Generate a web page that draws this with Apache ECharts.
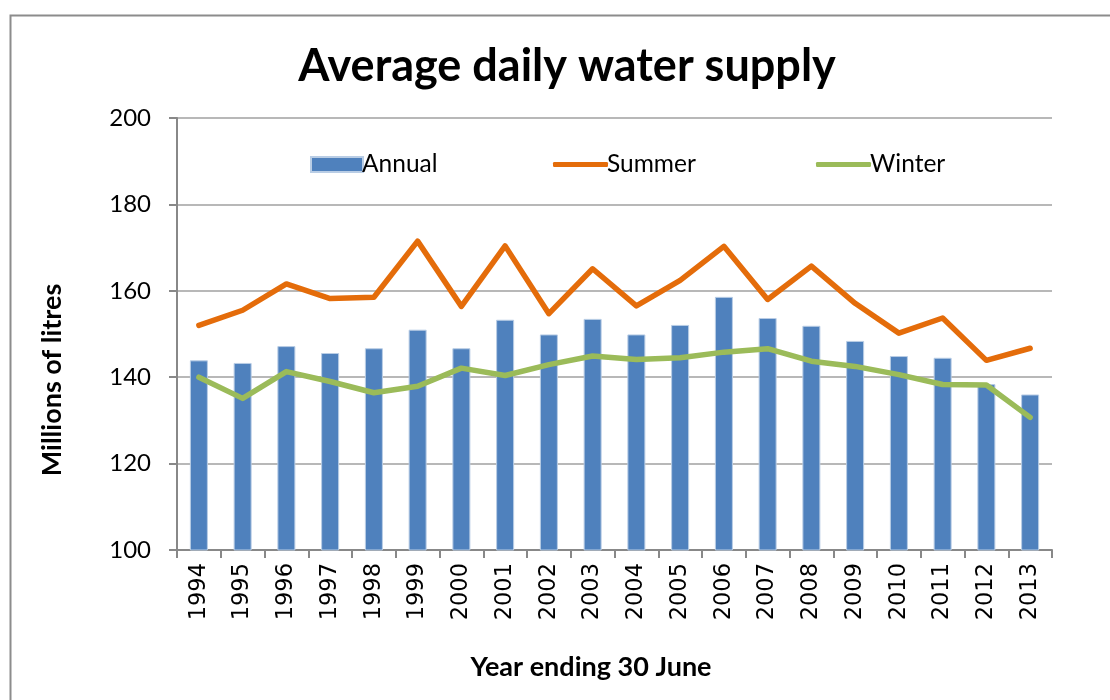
<!DOCTYPE html>
<html>
<head>
<meta charset="utf-8">
<script src="https://cdn.jsdelivr.net/npm/echarts@6/dist/echarts.min.js"></script>
<style>
html,body{margin:0;padding:0;background:#fff;}
#chart{width:1110px;height:700px;}
</style>
</head>
<body>
<div id="chart"></div>
<script>
const years = ['1994','1995','1996','1997','1998','1999','2000','2001','2002','2003','2004','2005','2006','2007','2008','2009','2010','2011','2012','2013'];
const annual = [143.9,143.3,147.2,145.6,146.7,151.0,146.7,153.3,149.9,153.5,149.9,152.1,158.6,153.7,151.9,148.4,144.9,144.5,138.4,136.0];
const summer = [152.0,155.5,161.6,158.2,158.5,171.5,156.4,170.4,154.7,165.1,156.5,162.4,170.3,158.0,165.7,157.1,150.2,153.7,143.9,146.7];
const winter = [140.0,135.1,141.3,139.0,136.4,137.9,142.1,140.4,142.9,144.9,144.1,144.5,145.8,146.6,143.7,142.5,140.6,138.3,138.2,130.7];
const yTicks = {min:100, max:200, interval:20};

const chart = echarts.init(document.getElementById('chart'), null, {renderer:'canvas'});
const FONT = 'Lato';
const legendText = {fontFamily:FONT, fontSize:24.5, color:'#000', padding:[0,0,0,-6]};
chart.setOption({
  animation:false,
  backgroundColor:'#fff',
  title:{
    text:'Average daily water supply',
    left:562, top:39, textAlign:'center',
    textStyle:{fontFamily:FONT, fontWeight:'bold', fontSize:45, color:'#000'}
  },
  legend:[
    {left:305, top:147, itemWidth:52, itemHeight:15,
     textStyle:legendText, data:[{name:'Annual', icon:'rect'}]},
    {left:548, top:147, itemWidth:55, itemHeight:5, icon:'roundRect',
     textStyle:legendText, data:[{name:'Summer'}]},
    {left:811, top:147, itemWidth:55, itemHeight:5, icon:'roundRect',
     textStyle:legendText, data:[{name:'Winter'}]}
  ],
  grid:{left:177, right:58, top:118, bottom:150, containLabel:false},
  xAxis:{
    type:'category',
    data:years,
    axisLine:{lineStyle:{color:'#888', width:2}},
    axisTick:{show:true, length:8, lineStyle:{color:'#888', width:2}},
    axisLabel:{rotate:90, fontFamily:'DejaVu Sans', fontSize:22.5, color:'#000', margin:13, interval:0}
  },
  yAxis:{
    type:'value',
    min:yTicks.min, max:yTicks.max, interval:yTicks.interval,
    axisLine:{show:true, lineStyle:{color:'#888', width:2}},
    axisTick:{show:true, length:8, lineStyle:{color:'#888', width:2}},
    axisLabel:{fontFamily:FONT, fontSize:24, color:'#000', margin:26},
    splitLine:{lineStyle:{color:'#a0a0a0', width:1.5}}
  },
  series:[
    {name:'Annual', type:'bar', data:annual, barWidth:18,
     itemStyle:{color:'#4f81bd', borderColor:'#b9cde5', borderWidth:1}},
    {name:'Summer', type:'line', data:summer, symbol:'none', showSymbol:false,
     lineStyle:{color:'#e46c0a', width:5.5, cap:'round', join:'round'}, itemStyle:{color:'#e46c0a'}},
    {name:'Winter', type:'line', data:winter, symbol:'none', showSymbol:false,
     lineStyle:{color:'#9bbb59', width:5.5, cap:'round', join:'round'}, itemStyle:{color:'#9bbb59'}}
  ],
  graphic:[
    {type:'rect', left:8, top:13, silent:true, z:-1,
     shape:{x:0, y:0, width:1300, height:900},
     style:{fill:'none', stroke:'#8c8c8c', lineWidth:2}},
    {type:'text', x:52, y:380, rotation:Math.PI/2, silent:true,
     style:{text:'Millions of litres', fontFamily:FONT, fontWeight:'bold', fontSize:27,
            fill:'#000', align:'center', verticalAlign:'middle'}},
    {type:'text', x:591, y:667, silent:true,
     style:{text:'Year ending 30 June', fontFamily:FONT, fontWeight:'bold', fontSize:27,
            fill:'#000', align:'center', verticalAlign:'middle'}}
  ]
});
</script>
</body>
</html>
